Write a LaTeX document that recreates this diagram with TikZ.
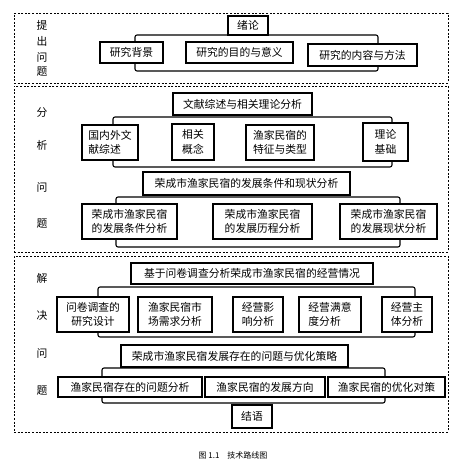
\documentclass[tikz,border=0pt]{standalone}
\usepackage{fontspec}
\newfontfamily\cjk{Noto Sans CJK SC}
\newcommand\mybox[7][]{\node[boxst,#1,minimum width={#5-#3},minimum height={#6-#4}] (#2) at ({(#3+#5)/2},{(#4+#6)/2}) {#7};}
\tikzset{
  boxst/.style={draw=black,fill=white,line width=1.1pt,inner sep=1pt,align=center,font=\cjk\fontsize{10.8}{14.5}\selectfont},
  brk/.style={boxst,fill=none,rounded corners=2pt},
  sect/.style={draw=black,fill=none,line width=0.8pt,dash pattern=on 2pt off 1.6pt,inner sep=0pt},
  lbl/.style={inner sep=0pt,font=\cjk\fontsize{10.8}{12}\selectfont},
}
\begin{document}
\begin{tikzpicture}[x=1pt,y=-1pt]
\useasboundingbox[fill=white] (0,0) rectangle (467,469);
% sections
\mybox[sect]{sec1}{14}{13}{448}{83}{}
\mybox[sect]{sec2}{14}{86}{448}{252}{}
\mybox[sect]{sec3}{14}{256}{448}{432}{}
% section labels
\node[lbl] (l1a) at (42,25) {提};
\node[lbl] (l1b) at (42,41) {出};
\node[lbl] (l1c) at (42,57) {问};
\node[lbl] (l1d) at (42,72) {题};
\node[lbl] (l2a) at (42,113) {分};
\node[lbl] (l2b) at (42,145) {析};
\node[lbl] (l2c) at (42,187) {问};
\node[lbl] (l2d) at (42,224) {题};
\node[lbl] (l3a) at (42,278) {解};
\node[lbl] (l3b) at (42,315) {决};
\node[lbl] (l3c) at (42,353) {问};
\node[lbl] (l3d) at (42,391) {题};
% section 1
\mybox{a0}{228}{16}{268}{35}{绪论}
\mybox[brk]{br1}{135}{35}{378}{71}{}
\mybox[line width=1.5pt]{a1}{100}{42}{163}{63}{研究背景}
\mybox{a2}{186}{42}{293}{63}{研究的目的与意义}
\mybox{a3}{308}{44}{417}{66}{研究的内容与方法}
% section 2
\mybox{b0}{173}{93}{312}{115}{文献综述与相关理论分析}
\mybox[brk]{br2}{113}{117}{392}{167}{}
\mybox[align=left]{b1}{82}{125}{138}{160}{国内外文\\献综述}
\mybox{b2}{172}{124}{214}{160}{相关\\概念}
\mybox[align=left]{b3}{246}{125}{314}{160}{渔家民宿的\\特征与类型}
\mybox{b4}{363}{123}{408}{161}{理论\\基础}
\mybox{c0}{143}{172}{350}{195}{荣成市渔家民宿的发展条件和现状分析}
\mybox[brk]{br3}{116}{197}{400}{247}{}
\mybox{c1}{82}{204}{177}{239}{荣成市渔家民宿\\的发展条件分析}
\mybox{c2}{213}{204}{312}{239}{荣成市渔家民宿\\的发展历程分析}
\mybox{c3}{340}{204}{437}{239}{荣成市渔家民宿\\的发展现状分析}
% section 3
\mybox{d0}{131}{263}{373}{284}{基于问卷调查分析荣成市渔家民宿的经营情况}
\mybox[brk]{br4}{98}{287}{415}{337}{}
\mybox{d1}{57}{297}{129}{332}{问卷调查的\\研究设计}
\mybox{d2}{138}{297}{212}{332}{渔家民宿市\\场需求分析}
\mybox{d3}{233}{297}{283}{332}{经营影\\响分析}
\mybox[align=left]{d4}{299}{297}{361}{332}{经营满意\\度分析}
\mybox{d5}{382}{297}{432}{332}{经营主\\体分析}
\mybox{e0}{121}{345}{348}{367}{荣成市渔家民宿发展存在的问题与优化策略}
\mybox[brk]{br5}{102}{368}{385}{403}{}
\mybox{e1}{58}{377}{202}{397}{渔家民宿存在的问题分析}
\mybox{e2}{205}{377}{325}{397}{渔家民宿的发展方向}
\mybox{e3}{328}{377}{445}{397}{渔家民宿的优化对策}
\mybox{f0}{232}{405}{272}{428}{结语}
% caption
\node[inner sep=0pt,font=\cjk\fontsize{8}{10}\selectfont] (cap) at (233,455) {图 1.1\quad 技术路线图};
\end{tikzpicture}
\end{document}
